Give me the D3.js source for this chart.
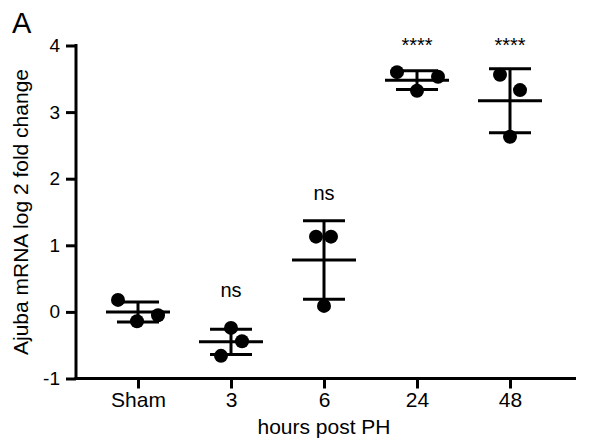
<!DOCTYPE html>
<html><head><meta charset="utf-8">
<script src="https://cdn.jsdelivr.net/npm/d3@7"></script>
<style>body{margin:0;background:#fff}svg{display:block}text{font-family:"Liberation Sans",Arial,sans-serif;fill:#000}</style>
</head><body>
<script>
const categories = ["Sham", "3", "6", "24", "48"];
const pointValues = [
  [0.18, -0.14, -0.05],
  [-0.24, -0.44, -0.66],
  [1.13, 1.13, 0.09],
  [3.60, 3.53, 3.32],
  [3.56, 3.33, 2.63]
];
const pointOffsets = [
  [-20, -1, 20],
  [0, 11, -10],
  [-8, 7, 0],
  [-20, 21, 0],
  [-10, 10, 0]
];
const means = [0.00, -0.45, 0.78, 3.48, 3.17];
const sds = [0.15, 0.19, 0.59, 0.14, 0.48];
const significance = ["", "ns", "ns", "****", "****"];
const yTicks = [-1, 0, 1, 2, 3, 4];

const W = 613, H = 446;
const FONT = '"Liberation Sans",Arial,sans-serif';
const svg = d3.select("body").append("svg").attr("width", W).attr("height", H);

const y = d3.scaleLinear().domain([-1, 4]).range([378.5, 45.5]);
const x = d3.scalePoint().domain(categories).range([138, 510]);
const axisLeft = 76, axisRight = 576;

// y axis
const gy = svg.append("g").attr("transform", `translate(${axisLeft},0)`)
  .call(d3.axisLeft(y).tickValues(yTicks).tickSize(10).tickPadding(6).tickFormat(d => String(d)));
gy.select(".domain").remove();
gy.selectAll(".tick line").attr("stroke", "#000").attr("stroke-width", 3);
gy.selectAll(".tick text").attr("font-size", 19).style("font-family", FONT);
gy.append("line").attr("x1", 0).attr("x2", 0).attr("y1", y(4) - 1.5).attr("y2", y(-1) + 1.5)
  .attr("stroke", "#000").attr("stroke-width", 3);

// x axis
const gx = svg.append("g").attr("transform", `translate(0,${y(-1)})`)
  .call(d3.axisBottom(x).tickSize(10).tickPadding(4));
gx.select(".domain").remove();
gx.selectAll(".tick line").attr("stroke", "#000").attr("stroke-width", 3);
gx.selectAll(".tick text").attr("font-size", 21).style("font-family", FONT);
gx.append("line").attr("x1", axisLeft - 1.5).attr("x2", axisRight).attr("y1", 0).attr("y2", 0)
  .attr("stroke", "#000").attr("stroke-width", 3);

// titles
svg.append("text").attr("x", (138 + 510) / 2).attr("y", 434).attr("text-anchor", "middle")
  .attr("font-size", 21).text("hours post PH");
svg.append("text").attr("transform", `translate(28,${(y(4) + y(-1)) / 2}) rotate(-90)`)
  .attr("text-anchor", "middle").attr("font-size", 21).text("Ajuba mRNA log 2 fold change");
svg.append("text").attr("x", 12).attr("y", 33).attr("font-size", 29).text("A");

// data
const groups = svg.append("g").selectAll("g").data(categories).join("g")
  .attr("transform", d => `translate(${x(d)},0)`);

groups.each(function (c, i) {
  const g = d3.select(this);
  g.selectAll("circle").data(pointValues[i]).join("circle")
    .attr("cx", (v, j) => pointOffsets[i][j])
    .attr("cy", v => y(v)).attr("r", 7).attr("fill", "#000");
  const m = means[i], s = sds[i];
  g.append("line").attr("x1", 0).attr("x2", 0).attr("y1", y(m + s)).attr("y2", y(m - s))
    .attr("stroke", "#000").attr("stroke-width", 3);
  g.append("line").attr("x1", -21).attr("x2", 21).attr("y1", y(m + s)).attr("y2", y(m + s))
    .attr("stroke", "#000").attr("stroke-width", 3);
  g.append("line").attr("x1", -21).attr("x2", 21).attr("y1", y(m - s)).attr("y2", y(m - s))
    .attr("stroke", "#000").attr("stroke-width", 3);
  g.append("line").attr("x1", -32).attr("x2", 32).attr("y1", y(m)).attr("y2", y(m))
    .attr("stroke", "#000").attr("stroke-width", 3);
});

// significance labels
const sigBaseline = [0, 297, 200, 51.5, 51.5];
svg.append("g").selectAll("text").data(categories).join("text")
  .attr("x", d => x(d)).attr("y", (d, i) => sigBaseline[i])
  .attr("text-anchor", "middle")
  .attr("font-size", 20)
  .text((d, i) => significance[i]);
</script>
</body></html>
